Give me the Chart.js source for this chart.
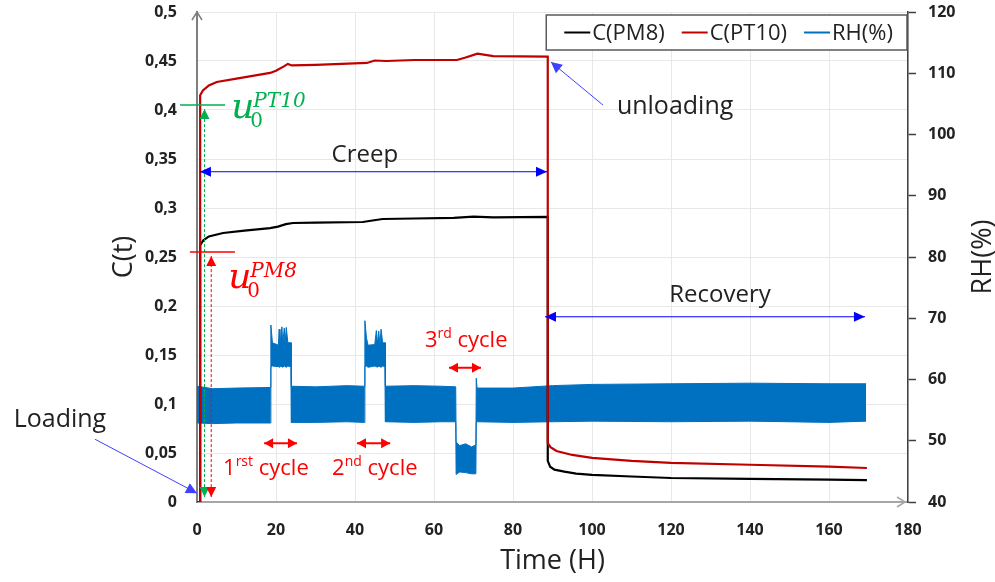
<!DOCTYPE html>
<html>
<head>
<meta charset="utf-8">
<title>Creep / recovery</title>
<script src="https://cdn.jsdelivr.net/npm/chart.js@4.4.1/dist/chart.umd.min.js"></script>
<style>
  html, body { margin: 0; padding: 0; background: #fff; }
</style>
</head>
<body>
<canvas id="chart" width="995" height="582"></canvas>
<script>
// ---- values ----
const timeTicks = [0, 20, 40, 60, 80, 100, 120, 140, 160, 180];
const cTickValues = [0, 0.05, 0.1, 0.15, 0.2, 0.25, 0.3, 0.35, 0.4, 0.45, 0.5];
const cTickLabels = ['0', '0,05', '0,1', '0,15', '0,2', '0,25', '0,3', '0,35', '0,4', '0,45', '0,5'];
const rhTicks = [40, 50, 60, 70, 80, 90, 100, 110, 120];

// C(PM8) - black
const pm8Time = [0, 0.8, 0.8, 1.6, 3, 6.6, 12, 18.5, 20.5, 22.5, 24.3, 30, 42, 44, 47, 55, 65, 70, 75, 88.8,
  88.8, 89.4, 90.5, 93, 96, 100, 110, 120, 140, 160, 169.6];
const pm8Values = [0, 0, 0.262, 0.267, 0.271, 0.2745, 0.277, 0.2795, 0.281, 0.2835, 0.2847, 0.285, 0.2857, 0.287,
  0.2888, 0.2893, 0.290, 0.2911, 0.2905, 0.291, 0.042, 0.036, 0.033, 0.031, 0.029, 0.0276, 0.026, 0.0245, 0.0235,
  0.0228, 0.0224];

// C(PT10) - red
const pt10Time = [0, 0.8, 0.8, 1.5, 3, 5, 10, 18.5, 20, 22, 23, 24, 30, 43, 45, 48, 55, 65.8, 68, 71, 75, 88.8,
  88.8, 89.5, 91, 95, 100, 110, 120, 140, 160, 169.6];
const pt10Values = [0, 0, 0.415, 0.42, 0.425, 0.4286, 0.432, 0.4378, 0.44, 0.4445, 0.447, 0.4455, 0.446, 0.448,
  0.4505, 0.45, 0.451, 0.451, 0.4535, 0.4575, 0.455, 0.4545, 0.06, 0.056, 0.052, 0.048, 0.045, 0.042, 0.040,
  0.038, 0.036, 0.0347];

// RH(%) - noisy signal, drawn as its upper / lower envelope
const rhTime = [0, 4, 10, 18.6, 18.7, 19.1, 20.6, 20.8, 21.0, 21.5, 21.7, 22.1, 22.3, 22.6, 23.0, 23.8, 23.9,
  30, 38, 42.4, 42.5, 42.9, 43.3, 45.0, 45.4, 45.7, 46.0, 46.3, 46.6, 47.0, 47.6, 47.7, 55, 62, 65.5, 65.6,
  66.5, 68.0, 69.5, 70.6, 70.7, 70.9, 80, 90, 100, 120, 140, 160, 169.4];
const rhUpper = [58.9, 58.5, 58.6, 58.7, 68.9, 66.0, 65.6, 68.2, 65.6, 68.6, 65.8, 68.4, 65.8, 68.5, 66.0, 66.0,
  58.9, 58.8, 59.0, 58.9, 69.6, 66.8, 65.6, 65.7, 68.0, 65.8, 67.9, 65.7, 68.2, 66.0, 66.0, 58.9, 59.0, 58.9,
  58.8, 49.8, 49.2, 49.5, 49.0, 49.3, 60.2, 58.6, 58.6, 59.0, 59.2, 59.3, 59.4, 59.3, 59.3];
const rhLower = [52.9, 52.8, 52.9, 52.9, 62.0, 62.2, 62.1, 62.0, 62.2, 62.1, 62.0, 62.2, 62.1, 62.0, 62.2, 62.1,
  53.0, 53.0, 53.1, 53.0, 62.1, 62.2, 62.0, 62.2, 62.1, 62.0, 62.2, 62.1, 62.0, 62.2, 62.1, 53.1, 53.0, 53.1,
  53.1, 44.5, 44.9, 44.8, 44.6, 44.6, 53.0, 53.1, 53.0, 53.1, 53.2, 53.1, 53.2, 53.0, 53.2];

const BLUE_RH = '#0070C0';
const TEXT = '#222222';

const toPoints = (xs, ys) => xs.map((t, i) => ({ x: t, y: ys[i] }));

Chart.defaults.font.family = "'Open Sans', sans-serif";
Chart.defaults.color = TEXT;

// filled arrow head with its tip at (tx, ty)
function head(ctx, tx, ty, ang, len, half, color) {
    ctx.save();
    ctx.translate(tx, ty);
    ctx.rotate(ang);
    ctx.beginPath();
    ctx.moveTo(0, 0);
    ctx.lineTo(-len, -half);
    ctx.lineTo(-len, half);
    ctx.closePath();
    ctx.fillStyle = color;
    ctx.fill();
    ctx.restore();
}

function arrow(ctx, x0, y0, x1, y1, color, width, both, len = 10, half = 5, dash = []) {
    const ang = Math.atan2(y1 - y0, x1 - x0);
    ctx.save();
    ctx.strokeStyle = color;
    ctx.lineWidth = width;
    ctx.setLineDash(dash);
    ctx.beginPath();
    ctx.moveTo(x0, y0);
    ctx.lineTo(x1, y1);
    ctx.stroke();
    ctx.restore();
    head(ctx, x1, y1, ang, len, half, color);
    if (both) head(ctx, x0, y0, ang + Math.PI, len, half, color);
}

function line(ctx, x0, y0, x1, y1, color, width) {
    ctx.strokeStyle = color;
    ctx.lineWidth = width;
    ctx.beginPath();
    ctx.moveTo(x0, y0);
    ctx.lineTo(x1, y1);
    ctx.stroke();
}

// u_0^{sup} label
function drawU(ctx, x, y, color, sup) {
    ctx.fillStyle = color;
    ctx.textAlign = 'left';
    ctx.textBaseline = 'alphabetic';
    ctx.font = 'italic 36px "DejaVu Serif"';
    ctx.fillText('u', x, y);
    ctx.font = '20px "DejaVu Serif"';
    ctx.fillText('0', x + 19, y + 9);
    ctx.font = 'italic 20px "DejaVu Serif"';
    ctx.fillText(sup, x + 22, y - 11);
}

// "1rst cycle" style label
function cycleLabel(ctx, x, y, num, sup) {
    ctx.fillStyle = '#FF0000';
    ctx.textAlign = 'left';
    ctx.textBaseline = 'alphabetic';
    ctx.font = '22px "Open Sans"';
    ctx.fillText(num, x, y);
    let w = ctx.measureText(num).width;
    ctx.font = '14px "Open Sans"';
    ctx.fillText(sup, x + w, y - 9);
    w += ctx.measureText(sup).width;
    ctx.font = '22px "Open Sans"';
    ctx.fillText(' cycle', x + w, y);
}

const annotate = {
    id: 'annotate',
    afterDraw(chart) {
        const { ctx, chartArea, scales } = chart;
        const X = t => scales.x.getPixelForValue(t);
        const Y = c => scales.y.getPixelForValue(c);
        ctx.save();

        // axis arrow tips
        ctx.strokeStyle = '#7f7f7f';
        ctx.lineWidth = 1.5;
        ctx.beginPath();
        ctx.moveTo(chartArea.left - 5, chartArea.top + 8);
        ctx.lineTo(chartArea.left, chartArea.top);
        ctx.lineTo(chartArea.left + 5, chartArea.top + 8);
        ctx.stroke();
        ctx.strokeStyle = '#a6a6a6';
        ctx.beginPath();
        ctx.moveTo(chartArea.right - 11, chartArea.bottom - 5);
        ctx.lineTo(chartArea.right - 3, chartArea.bottom);
        ctx.lineTo(chartArea.right - 11, chartArea.bottom + 5);
        ctx.stroke();

        // u0 markers
        line(ctx, X(-4.3), Y(0.405), X(7.1), Y(0.405), '#00B050', 1.5);
        arrow(ctx, X(1.9), Y(0.005), X(1.9), Y(0.401), '#00B050', 1, false, 10, 5, [3, 2]);
        head(ctx, X(1.9), Y(0.005), Math.PI / 2, 10, 5, '#00B050');
        line(ctx, X(-1.8), Y(0.255), X(9.6), Y(0.255), '#FF0000', 1.5);
        arrow(ctx, X(3.6), Y(0.005), X(3.6), Y(0.251), '#FF0000', 1, false, 10, 5, [3, 2]);
        head(ctx, X(3.6), Y(0.005), Math.PI / 2, 10, 5, '#FF0000');
        drawU(ctx, X(8.7), Y(0.392), '#00B050', 'PT10');
        drawU(ctx, X(7.9), Y(0.218), '#FF0000', 'PM8');

        // Loading
        arrow(ctx, X(-25.8), Y(0.064), X(0), Y(0.009), '#4040ff', 1, false, 11, 5.5);
        ctx.fillStyle = TEXT;
        ctx.font = '25px "Open Sans"';
        ctx.textAlign = 'center';
        ctx.textBaseline = 'alphabetic';
        ctx.fillText('Loading', X(-34.7), Y(0.0765));

        // Creep
        arrow(ctx, X(0.75), Y(0.337), X(88.6), Y(0.337), '#0000FF', 1, true, 11, 5);
        ctx.fillStyle = TEXT;
        ctx.font = '24px "Open Sans"';
        ctx.textAlign = 'center';
        ctx.textBaseline = 'middle';
        ctx.fillText('Creep', X(42.5), Y(0.354));

        // unloading
        arrow(ctx, X(102.8), Y(0.405), X(89.6), Y(0.449), '#4040ff', 1, false, 11, 5.5);
        ctx.font = '25px "Open Sans"';
        ctx.textAlign = 'left';
        ctx.textBaseline = 'alphabetic';
        ctx.fillText('unloading', X(106.3), Y(0.396));

        // Recovery
        arrow(ctx, X(88.1), Y(0.189), X(169.1), Y(0.189), '#0000FF', 1, true, 11, 5);
        ctx.fillStyle = TEXT;
        ctx.font = '24px "Open Sans"';
        ctx.textAlign = 'center';
        ctx.fillText('Recovery', X(132.4), Y(0.204));

        // humidity cycles
        arrow(ctx, X(17.0), Y(0.06), X(25.3), Y(0.06), '#FF0000', 2, true, 9, 5);
        arrow(ctx, X(40.5), Y(0.06), X(48.9), Y(0.06), '#FF0000', 2, true, 9, 5);
        arrow(ctx, X(63.8), Y(0.137), X(71.9), Y(0.137), '#FF0000', 2, true, 9, 5);
        cycleLabel(ctx, X(6.6), Y(0.0276), '1', 'rst');
        cycleLabel(ctx, X(34.2), Y(0.0276), '2', 'nd');
        cycleLabel(ctx, X(57.7), Y(0.158), '3', 'rd');

        // right axis title (reads bottom to top)
        ctx.fillStyle = TEXT;
        ctx.font = '27px "Open Sans"';
        ctx.textAlign = 'center';
        ctx.textBaseline = 'middle';
        ctx.translate(983, (chartArea.top + chartArea.bottom) / 2);
        ctx.rotate(-Math.PI / 2);
        ctx.fillText(chart.options.scales.y1.title.text, 0, 0);
        ctx.restore();

        // legend box, top right inside the plot
        ctx.save();
        ctx.font = '22px "Open Sans"';
        const items = chart.data.datasets.filter(d => d.label);
        const widths = items.map(d => ctx.measureText(d.label).width);
        const boxW = 18 + widths.reduce((s, w) => s + w + 28, 0) + 17 * (items.length - 1) + 14;
        const right = chartArea.right - 1;
        const left = right - boxW;
        const top = chartArea.top + 3;
        const h = 35;
        ctx.fillStyle = '#fff';
        ctx.fillRect(left, top, boxW, h);
        ctx.strokeStyle = '#595959';
        ctx.lineWidth = 1.5;
        ctx.strokeRect(left, top, boxW, h);
        let cx = left + 18;
        const cy = top + h / 2;
        items.forEach((d, i) => {
            ctx.strokeStyle = d.borderColor;
            ctx.lineWidth = 2;
            ctx.beginPath();
            ctx.moveTo(cx, cy);
            ctx.lineTo(cx + 26, cy);
            ctx.stroke();
            ctx.fillStyle = TEXT;
            ctx.textAlign = 'left';
            ctx.textBaseline = 'middle';
            ctx.fillText(d.label, cx + 28, cy + 1);
            cx += 28 + widths[i] + 17;
        });
        ctx.restore();
    }
};

// keep the plot box fixed: axis widths / heights as in the figure, no label overhang
const fixBox = size => s => {
    if (s.isHorizontal()) s.height = size; else s.width = size;
    s.paddingTop = 0;
    s.paddingBottom = 0;
    s.paddingLeft = 0;
    s.paddingRight = 0;
};

new Chart(document.getElementById('chart'), {
    type: 'line',
    data: {
        datasets: [
            {
                label: 'C(PM8)',
                data: toPoints(pm8Time, pm8Values),
                borderColor: '#000000',
                borderWidth: 2.2,
                pointRadius: 0,
                yAxisID: 'y',
                order: 1
            },
            {
                label: 'C(PT10)',
                data: toPoints(pt10Time, pt10Values),
                borderColor: '#C00000',
                borderWidth: 2.2,
                pointRadius: 0,
                yAxisID: 'y',
                order: 0
            },
            {
                data: toPoints(rhTime, rhLower),
                borderColor: BLUE_RH,
                borderWidth: 1,
                pointRadius: 0,
                fill: false,
                yAxisID: 'y1',
                order: 3
            },
            {
                label: 'RH(%)',
                data: toPoints(rhTime, rhUpper),
                borderColor: BLUE_RH,
                backgroundColor: BLUE_RH,
                borderWidth: 1,
                pointRadius: 0,
                fill: '-1',
                yAxisID: 'y1',
                order: 2
            }
        ]
    },
    options: {
        responsive: false,
        devicePixelRatio: 1,
        animation: false,
        layout: { padding: { top: 12, left: 0, right: 0, bottom: 0 }, autoPadding: false },
        plugins: {
            legend: { display: false },
            tooltip: { enabled: false }
        },
        scales: {
            x: {
                type: 'linear',
                min: 0,
                max: 180,
                afterBuildTicks: s => { s.ticks = timeTicks.map(v => ({ value: v })); },
                afterFit: fixBox(80),
                ticks: {
                    callback: v => String(v),
                    font: { size: 16, weight: 'bold' },
                    color: TEXT,
                    padding: 19,
                    maxRotation: 0
                },
                grid: { color: '#e8e8e8', drawTicks: false },
                border: { color: '#a6a6a6', width: 2 },
                title: {
                    display: true,
                    text: 'Time (H)',
                    font: { size: 27 },
                    color: TEXT,
                    padding: { top: 0, bottom: 4 }
                }
            },
            y: {
                position: 'left',
                min: 0,
                max: 0.5,
                afterBuildTicks: s => { s.ticks = cTickValues.map(v => ({ value: v })); },
                afterFit: fixBox(197),
                ticks: {
                    callback: (v, i) => cTickLabels[i],
                    font: { size: 16, weight: 'bold' },
                    color: TEXT,
                    padding: 20
                },
                grid: { color: '#e8e8e8', drawTicks: false },
                border: { color: '#7f7f7f', width: 2 },
                title: {
                    display: true,
                    text: 'C(t)',
                    font: { size: 27 },
                    color: TEXT,
                    padding: { top: 108, bottom: 0 }
                }
            },
            y1: {
                position: 'right',
                min: 40,
                max: 120,
                afterBuildTicks: s => { s.ticks = rhTicks.map(v => ({ value: v })); },
                afterFit: fixBox(87),
                ticks: {
                    font: { size: 16, weight: 'bold' },
                    color: TEXT,
                    padding: 12
                },
                grid: { drawOnChartArea: false, drawTicks: true, tickLength: 8, tickColor: '#404040', tickWidth: 1.5 },
                border: { color: '#404040', width: 1.5 },
                title: { display: false, text: 'RH(%)' }
            }
        }
    },
    plugins: [annotate]
});
</script>
</body>
</html>
